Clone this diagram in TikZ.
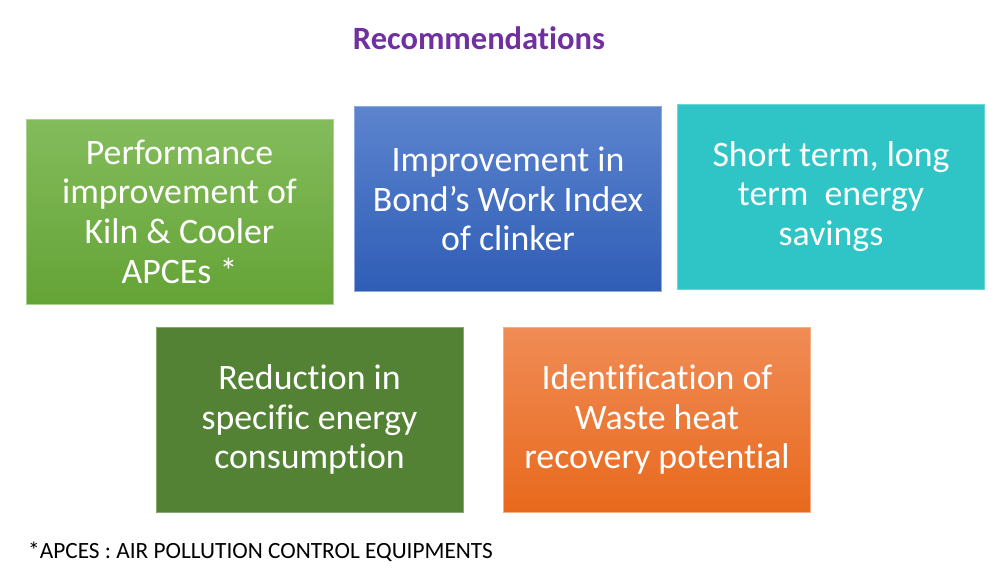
\documentclass[tikz,border=0pt]{standalone}
\usepackage{fontspec}
\setmainfont{Carlito}[Ligatures={NoCommon,NoRequired,NoContextual}]
\usetikzlibrary{positioning}
\definecolor{TitlePurple}{HTML}{7030A0}
\definecolor{LeafTop}{HTML}{84BC5C}
\definecolor{LeafBot}{HTML}{64A336}
\definecolor{BlueTop}{HTML}{5C84CE}
\definecolor{BlueBot}{HTML}{2F5DB6}
\definecolor{TealFill}{HTML}{2FC5C6}
\definecolor{MossFill}{HTML}{548235}
\definecolor{OrangeTop}{HTML}{F08C56}
\definecolor{OrangeBot}{HTML}{E8691D}
\tikzset{
  recbox/.style={rectangle, minimum width=307pt, minimum height=185pt, inner sep=2pt, align=center, text=white, font=\fontsize{35.8}{39.6}\selectfont},
  greenbox/.style={recbox, top color=LeafTop, bottom color=LeafBot, draw=LeafTop!70!white, line width=1pt},
  bluebox/.style={recbox, top color=BlueTop, bottom color=BlueBot, draw=BlueTop!70!white, line width=1pt},
  tealbox/.style={recbox, fill=TealFill, draw=TealFill!70!white, line width=1pt},
  mossbox/.style={recbox, fill=MossFill, draw=MossFill!70!white, line width=1pt},
  orangebox/.style={recbox, top color=OrangeTop, bottom color=OrangeBot, draw=OrangeTop!70!white, line width=1pt}
}
\begin{document}
\begin{tikzpicture}[x=1pt, y=-1pt]
\useasboundingbox (0,0) rectangle (1001,576);
\node[font=\fontsize{32.5}{36}\selectfont\bfseries, text=TitlePurple] (title) at (479,38) {Recommendations};
% upper row
\node[greenbox] (kiln) at (179.5,211.5) {Performance\\improvement of\\Kiln \& Cooler\\APCEs *};
\node[bluebox] (bond) at (508,199) {Improvement in\\Bond’s Work Index\\of clinker};
\node[tealbox] (saving) at (831,196.5) {Short term, long\\term~~energy\\savings};
% lower row
\node[mossbox] (energy) at (309.5,419.5) {Reduction in\\specific energy\\consumption};
\node[orangebox] (whr) at (657,419.5) {Identification of\\Waste heat\\recovery potential};
\node[anchor=west, inner sep=0pt, font=\fontsize{23.3}{26}\selectfont] (note) at (28,552) {*APCES : AIR POLLUTION CONTROL EQUIPMENTS};
\end{tikzpicture}
\end{document}
